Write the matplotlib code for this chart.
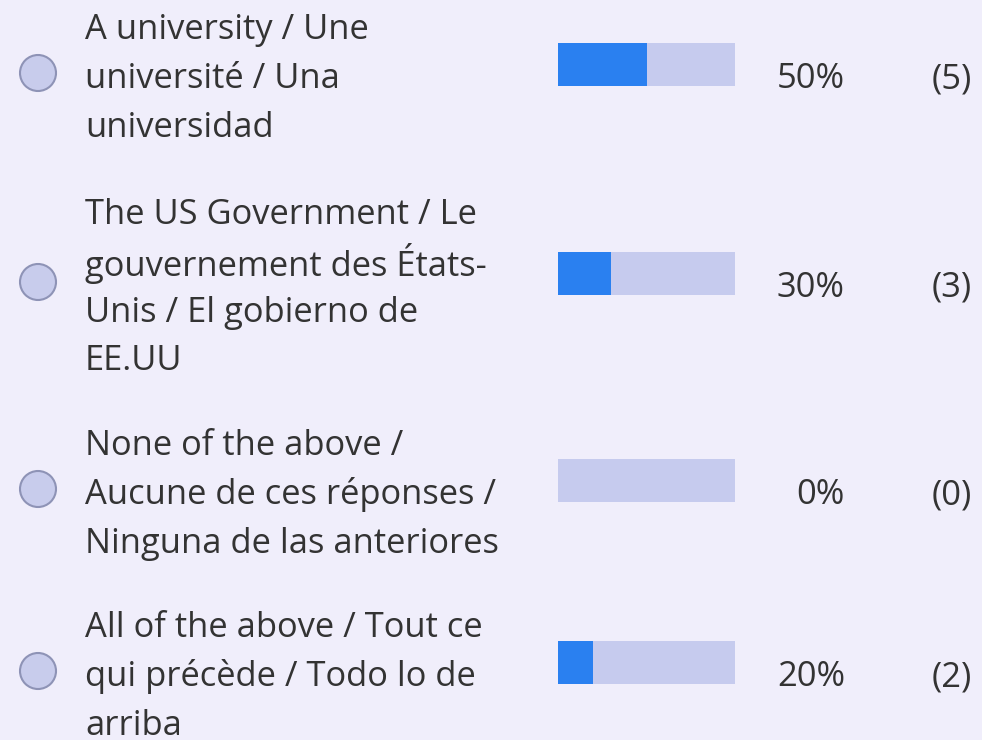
import matplotlib.pyplot as plt
from matplotlib.patches import Circle

# --- Data ---
labels = [
    ["A university / Une", "université / Una", "universidad"],
    ["The US Government / Le", "gouvernement des États-", "Unis / El gobierno de", "EE.UU"],
    ["None of the above /", "Aucune de ces réponses /", "Ninguna de las anteriores"],
    ["All of the above / Tout ce", "qui précède / Todo lo de", "arriba"],
]
percents = [50, 30, 0, 20]
counts = [5, 3, 0, 2]

# --- Layout (pixels) ---
W, H = 982, 740
BG = "#f0eefb"
row_y = [75, 284, 491, 673]
bar_offset = -11
line_gap = 49
TEXT = "#333333"
FS = 24.8

fig = plt.figure(figsize=(W / 100, H / 100), dpi=100, facecolor=BG)
ax = fig.add_axes([0, 0, 1, 1])
ax.set_xlim(0, W)
ax.set_ylim(H, 0)
ax.axis("off")
ax.set_facecolor(BG)

# bars live in their own axes with a 0-100 scale
bx0, bw = 558, 177
bax = fig.add_axes([bx0 / W, 0, bw / W, 1])
bax.set_xlim(0, 100)
bax.set_ylim(H, 0)
bax.axis("off")
bax.patch.set_alpha(0)

bar_y = [y + bar_offset for y in row_y]
bax.barh(bar_y, [100] * len(percents), height=43, color="#c6cbee")
bax.barh(bar_y, percents, height=43, color="#2a80f0")

for i, y in enumerate(row_y):
    ax.add_patch(Circle((38, y - 2), 18, facecolor="#c8ccec", edgecolor="#8e93b6", lw=1.5))
    lines = labels[i]
    top = y - line_gap * (len(lines) - 1) / 2
    for k, line in enumerate(lines):
        ax.text(85, top + k * line_gap, line, fontsize=FS, family="Open Sans",
                color=TEXT, va="center_baseline", ha="left")
    ax.text(845, y, f"{percents[i]}%", fontsize=FS, family="Open Sans", color=TEXT,
            va="center_baseline", ha="right")
    ax.text(972, y, f"({counts[i]})", fontsize=FS, family="Open Sans", color=TEXT,
            va="center_baseline", ha="right")

fig.savefig("out.png", dpi=100, facecolor=BG)
